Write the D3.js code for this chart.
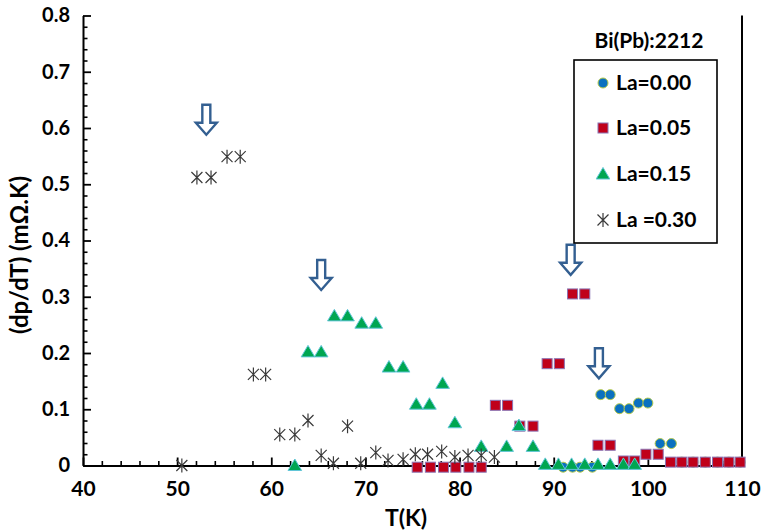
<!DOCTYPE html>
<html>
<head>
<meta charset="utf-8">
<script src="https://cdn.jsdelivr.net/npm/d3@7/dist/d3.min.js"></script>
<style>
  html, body { margin: 0; padding: 0; background: #fff; }
  svg { display: block; }
  text { font-family: Lato, "Open Sans", sans-serif; font-weight: 700; fill: #000; }
</style>
</head>
<body>
<svg id="chart" width="762" height="532"></svg>
<script>
// dρ/dT against temperature for Bi(Pb):2212 with La substitution
const xTicks = [40, 50, 60, 70, 80, 90, 100, 110];
const yTicks = [0, 0.1, 0.2, 0.3, 0.4, 0.5, 0.6, 0.7, 0.8];
const yTickLabels = ["0", "0.1", "0.2", "0.3", "0.4", "0.5", "0.6", "0.7", "0.8"];

const legendTitle = "Bi(Pb):2212";
const seriesNames = ["La=0.00", "La=0.05", "La=0.15", "La =0.30"];

// La = 0.00
const la000T = [91.0, 92.0, 92.8, 94.1, 95.0, 96.0, 97.0, 98.0, 99.0, 100.0, 101.3, 102.5,
                103.6, 104.8, 106.1, 107.4, 108.6, 109.8];
const la000V = [-0.003, -0.003, -0.003, -0.003, 0.126, 0.126, 0.101, 0.101, 0.111, 0.111, 0.039, 0.039,
                0.006, 0.006, 0.006, 0.006, 0.006, 0.006];

// La = 0.05
const la005T = [75.5, 76.9, 78.3, 79.6, 81.0, 82.3, 83.8, 85.1, 86.4, 87.8, 89.3, 90.6, 92.0, 93.3,
                94.7, 96.0, 97.4, 98.6, 99.8, 101.1, 102.4, 103.6, 104.8, 106.1, 107.4, 108.6, 109.8];
const la005V = [-0.003, -0.003, -0.003, -0.003, -0.003, -0.003, 0.107, 0.107, 0.070, 0.070, 0.181, 0.181, 0.305, 0.305,
                0.036, 0.036, 0.008, 0.008, 0.020, 0.020, 0.006, 0.006, 0.006, 0.006, 0.006, 0.006, 0.006];

// La = 0.15
const la015T = [62.5, 63.9, 65.3, 66.7, 68.1, 69.6, 71.1, 72.5, 74.0, 75.4, 76.8, 78.2, 79.5, 82.3,
                85.0, 86.3, 87.8, 89.1, 90.5, 91.9, 93.3, 94.7, 96.0, 97.4, 98.6];
const la015V = [0.0, 0.202, 0.202, 0.266, 0.266, 0.253, 0.253, 0.175, 0.175, 0.109, 0.109, 0.146, 0.076, 0.034,
                0.034, 0.071, 0.034, 0.002, 0.002, 0.002, 0.002, 0.002, 0.002, 0.002, 0.002];

// La = 0.30
const la030T = [50.5, 52.1, 53.6, 55.3, 56.7, 58.1, 59.4, 60.9, 62.5, 63.9, 65.3, 66.6, 68.1, 69.5,
                71.1, 72.4, 74.0, 75.3, 76.6, 78.1, 79.5, 80.9, 82.3, 83.7];
const la030V = [0.0, 0.512, 0.512, 0.549, 0.549, 0.162, 0.162, 0.055, 0.055, 0.080, 0.018, 0.004, 0.070, 0.004,
                0.023, 0.009, 0.011, 0.020, 0.020, 0.025, 0.015, 0.018, 0.018, 0.015];

// Down-arrow annotations (tip position in data units)
const arrowT = [53.1, 65.3, 91.8, 94.8];
const arrowV = [0.588, 0.312, 0.339, 0.155];

const svg = d3.select("#chart");
const x = d3.scaleLinear().domain([40, 110]).range([83, 742]);
const y = d3.scaleLinear().domain([0, 0.8]).range([465.5, 15.5]);

// minor ticks
const xMinor = d3.range(40, 110.01, 2).filter(v => v % 10 !== 0);
const yMinor = d3.range(0, 0.801, 0.02).filter(v => Math.abs(v * 10 - Math.round(v * 10)) > 1e-6);

svg.append("g").attr("transform", `translate(0,${y(0)})`)
  .call(d3.axisBottom(x).tickValues(xMinor).tickSize(-4.5).tickFormat(""))
  .call(g => g.select(".domain").remove())
  .call(g => g.selectAll("line").attr("stroke", "#000").attr("stroke-width", 1.6));
svg.append("g").attr("transform", `translate(${x(40)},0)`)
  .call(d3.axisLeft(y).tickValues(yMinor).tickSize(-4.5).tickFormat(""))
  .call(g => g.select(".domain").remove())
  .call(g => g.selectAll("line").attr("stroke", "#000").attr("stroke-width", 1.6));

// major ticks + labels
const xAxis = svg.append("g").attr("transform", `translate(0,${y(0)})`)
  .call(d3.axisBottom(x).tickValues(xTicks).tickSize(-8).tickSizeOuter(0).tickPadding(16).tickFormat(d3.format("d")));
xAxis.select(".domain").attr("stroke", "#000").attr("stroke-width", 2);
xAxis.selectAll("line").attr("stroke", "#000").attr("stroke-width", 1.8);
xAxis.selectAll("text").attr("font-size", 21).attr("font-family", "Lato, sans-serif").attr("font-weight", 700).attr("fill", "#000");

const yAxis = svg.append("g").attr("transform", `translate(${x(40)},0)`)
  .call(d3.axisLeft(y).tickValues(yTicks).tickSize(-8).tickSizeOuter(0).tickPadding(13)
    .tickFormat((d, i) => yTickLabels[i]));
yAxis.select(".domain").attr("stroke", "#000").attr("stroke-width", 2);
yAxis.selectAll("line").attr("stroke", "#000").attr("stroke-width", 1.8);
yAxis.selectAll("text").attr("font-size", 20).attr("font-family", "Lato, sans-serif").attr("font-weight", 700).attr("fill", "#000");

// right edge of plot area
svg.append("line")
  .attr("x1", x(110)).attr("x2", x(110)).attr("y1", y(0.8)).attr("y2", y(0))
  .attr("stroke", "#000").attr("stroke-width", 2);

// axis titles
svg.append("text").attr("x", 406).attr("y", 526).attr("text-anchor", "middle")
  .attr("font-size", 23).text("T(K)");
svg.append("text").attr("transform", "translate(28,255) rotate(-90)").attr("text-anchor", "middle")
  .attr("font-size", 24).text("(dp/dT) (mΩ.K)");

// marker shapes
const markers = {
  circle: g => g.append("circle").attr("r", 5).attr("fill", "#0a70c0").attr("stroke", "#b5c94a").attr("stroke-width", 1),
  square: g => g.append("rect").attr("x", -5).attr("y", -5).attr("width", 10).attr("height", 10)
                .attr("fill", "#c0001a").attr("stroke", "#8a74b4").attr("stroke-width", 1),
  triangle: g => g.append("path").attr("d", "M0,-6.5L6.8,5L-6.8,5Z")
                .attr("fill", "#00a651").attr("stroke", "#62c6d8").attr("stroke-width", 1),
  star: g => g.append("path").attr("d", "M-5.5,-5.5L5.5,5.5M-5.5,5.5L5.5,-5.5M0,-7L0,7")
                .attr("fill", "none").attr("stroke", "#3a3a3a").attr("stroke-width", 1.2)
};

const series = [
  { name: seriesNames[0], T: la000T, V: la000V, shape: "circle" },
  { name: seriesNames[1], T: la005T, V: la005V, shape: "square" },
  { name: seriesNames[2], T: la015T, V: la015V, shape: "triangle" },
  { name: seriesNames[3], T: la030T, V: la030V, shape: "star" }
];

series.forEach(s => {
  const pts = s.T.map((t, i) => ({ t, v: s.V[i] }));
  svg.append("g").selectAll("g").data(pts).join("g")
    .attr("transform", d => `translate(${x(d.t)},${y(d.v)})`)
    .each(function () { markers[s.shape](d3.select(this)); });
});

// down arrows
const arrowPath = (tx, ty) => {
  const sw = 4, hw = 10.5, hh = 12, len = 30;
  return `M${tx - sw},${ty - len}L${tx + sw},${ty - len}L${tx + sw},${ty - hh}L${tx + hw},${ty - hh}` +
         `L${tx},${ty}L${tx - hw},${ty - hh}L${tx - sw},${ty - hh}Z`;
};
arrowT.forEach((t, i) => {
  svg.append("path").attr("d", arrowPath(x(t), y(arrowV[i])))
    .attr("fill", "#fff").attr("stroke", "#335f91").attr("stroke-width", 2.4).attr("stroke-linejoin", "miter");
});

// legend
svg.append("text").attr("x", 649).attr("y", 48).attr("text-anchor", "middle")
  .attr("font-size", 21).text(legendTitle);
const lg = svg.append("g");
lg.append("rect").attr("x", 574).attr("y", 60).attr("width", 143).attr("height", 183)
  .attr("fill", "#fff").attr("stroke", "#000").attr("stroke-width", 1.6);
const legendY = [83, 128, 174, 220];
series.forEach((s, i) => {
  const row = lg.append("g").attr("transform", `translate(603,${legendY[i]})`);
  markers[s.shape](row);
  row.append("text").attr("x", 13).attr("y", 0).attr("dy", "0.35em")
    .attr("font-size", 21).text(s.name);
});
</script>
</body>
</html>
